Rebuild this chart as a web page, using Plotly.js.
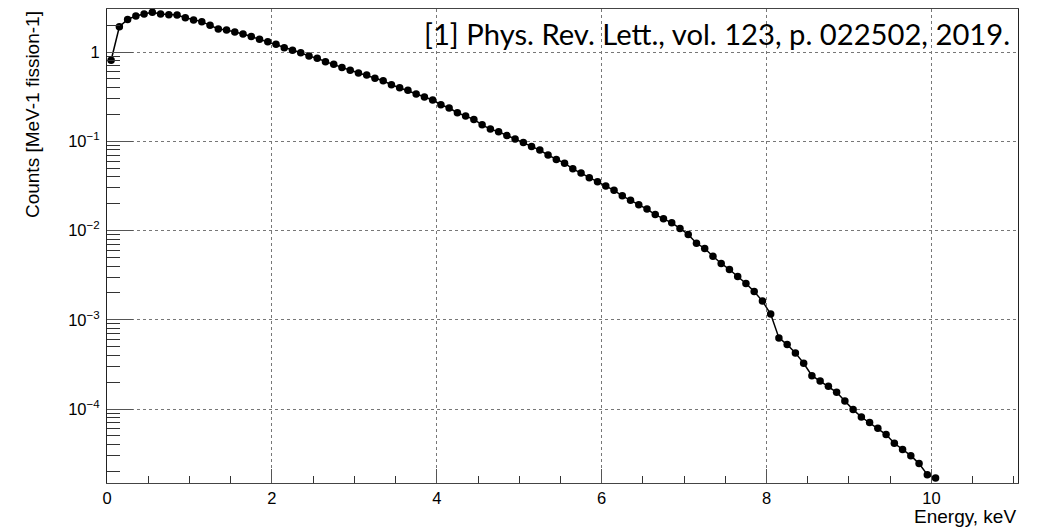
<!DOCTYPE html>
<html>
<head>
<meta charset="utf-8">
<script src="https://cdn.plot.ly/plotly-3.0.1.min.js"></script>
<style>html,body{margin:0;padding:0;background:#fff;}#chart{width:1038px;height:528px;}</style>
</head>
<body>
<div id="chart"></div>
<script>
const energy = [0.05,0.15,0.25,0.35,0.45,0.55,0.65,0.75,0.85,0.95,
  1.05,1.15,1.25,1.35,1.45,1.55,1.65,1.75,1.85,1.95,
  2.05,2.15,2.25,2.35,2.45,2.55,2.65,2.75,2.85,2.95,
  3.05,3.15,3.25,3.35,3.45,3.55,3.65,3.75,3.85,3.95,
  4.05,4.15,4.25,4.35,4.45,4.55,4.65,4.75,4.85,4.95,
  5.05,5.15,5.25,5.35,5.45,5.55,5.65,5.75,5.85,5.95,
  6.05,6.15,6.25,6.35,6.45,6.55,6.65,6.75,6.85,6.95,
  7.05,7.15,7.25,7.35,7.45,7.55,7.65,7.75,7.85,7.95,
  8.05,8.15,8.25,8.35,8.45,8.55,8.65,8.75,8.85,8.95,
  9.05,9.15,9.25,9.35,9.45,9.55,9.65,9.75,9.85,9.95,10.05];
const counts = [0.81,1.92,2.32,2.53,2.67,2.79,2.67,2.62,2.60,2.42,
  2.28,2.19,1.99,1.81,1.76,1.68,1.59,1.49,1.39,1.30,
  1.22,1.12,1.05,0.98,0.90,0.85,0.78,0.73,0.673,0.624,
  0.582,0.552,0.507,0.477,0.430,0.398,0.372,0.338,0.313,0.290,
  0.257,0.236,0.209,0.192,0.176,0.153,0.137,0.128,0.116,0.106,
  0.0972,0.0877,0.0797,0.070,0.0626,0.0568,0.0492,0.0440,0.0390,0.0352,
  0.0315,0.0282,0.0245,0.0219,0.0194,0.0174,0.0151,0.0136,0.0122,0.01056,
  0.00904,0.00722,0.0063,0.00516,0.00428,0.00366,0.00306,0.00255,0.00208,0.00162,
  0.00116,0.000627,0.000528,0.000426,0.000326,0.000237,0.000206,0.000180,0.000154,0.000123,
  0.0000987,0.0000815,0.0000706,0.0000609,0.0000518,0.0000414,0.0000352,0.0000301,0.0000245,0.0000184,0.0000169];

const yTickVals = [1e-4, 1e-3, 1e-2, 1e-1, 1];
const yTickText = ['10<sup>−4</sup>','10<sup>−3</sup>','10<sup>−2</sup>','10<sup>−1</sup>','1'];
const yMinorVals = [];
[1e-5,1e-4,1e-3,1e-2,1e-1,1].forEach(d => { for (let k = 2; k <= 9; k++) yMinorVals.push(k*d); });
const xTickVals = [0,2,4,6,8,10];
const xTickText = ['0','2','4','6','8','10'];

const refText = '[1] Phys. Rev. Lett., vol. 123, p. 022502, 2019.';
const xTitle = 'Energy, keV';
const yTitle = 'Counts [MeV-1 fission-1]';

const trace = {
  x: energy, y: counts, type: 'scatter', mode: 'lines+markers',
  line: {color: '#000', width: 1.5},
  marker: {color: '#000', size: 7.5},
  hoverinfo: 'skip'
};

const tickFont = {family: 'Liberation Sans, Arial, sans-serif', size: 16.5, color: '#000'};
const titleFont = {family: 'Liberation Sans, Arial, sans-serif', size: 19, color: '#000'};

const layout = {
  width: 1038, height: 528,
  margin: {l: 107, r: 20, t: 9, b: 45},
  paper_bgcolor: '#fff', plot_bgcolor: '#fff',
  showlegend: false,
  xaxis: {
    range: [0, 11.05], tickmode: 'array', tickvals: xTickVals, ticktext: xTickText,
    ticks: 'inside', ticklen: 14, tickcolor: '#555', tickwidth: 1,
    showline: true, linecolor: '#444', linewidth: 1, mirror: true,
    showgrid: true, gridcolor: '#777', griddash: 'dot', gridwidth: 1,
    zeroline: false, tickfont: tickFont,
    minor: {dtick: 0.5, tick0: 0, ticks: 'inside', ticklen: 7, tickcolor: '#333', showgrid: false}
  },
  yaxis: {
    type: 'log', range: [-4.828, 0.482], tickmode: 'array', tickvals: yTickVals, ticktext: yTickText,
    ticks: 'inside', ticklen: 26, tickcolor: '#555', tickwidth: 1,
    showline: true, linecolor: '#222', linewidth: 1, mirror: true,
    showgrid: true, gridcolor: '#777', griddash: 'dot', gridwidth: 1,
    zeroline: false, tickfont: tickFont, ticklabelstandoff: 3,
    minor: {tickmode: 'array', tickvals: yMinorVals, ticks: 'inside', ticklen: 13, tickcolor: '#333', showgrid: false}
  },
  annotations: [
    {text: refText, xref: 'paper', yref: 'paper', x: 0.993, y: 0.948, xanchor: 'right', yanchor: 'middle',
     showarrow: false, font: {family: 'Lato, Open Sans, sans-serif', size: 29.2, color: '#000'}},
    {text: xTitle, xref: 'paper', yref: 'paper', x: 1.0, y: -0.071, xanchor: 'right', yanchor: 'middle',
     showarrow: false, font: titleFont},
    {text: yTitle, xref: 'paper', yref: 'paper', x: -0.0817, y: 1.0, xanchor: 'center', yanchor: 'top',
     textangle: -90, showarrow: false, font: titleFont}
  ]
};

Plotly.newPlot('chart', [trace], layout, {staticPlot: true, displayModeBar: false});
</script>
</body>
</html>
